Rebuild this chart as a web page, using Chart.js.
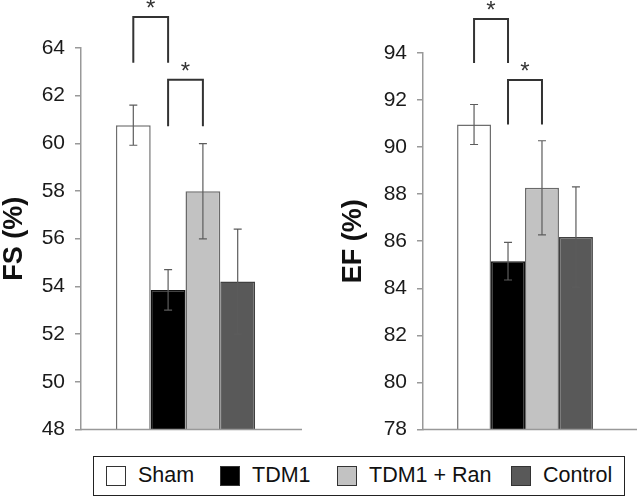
<!DOCTYPE html>
<html>
<head>
<meta charset="utf-8">
<script src="https://cdn.jsdelivr.net/npm/chart.js@4.4.1/dist/chart.umd.min.js"></script>
<style>
  body { margin: 0; background: #fff; width: 639px; height: 498px; position: relative; overflow: hidden;
         font-family: "Liberation Sans", Arial, sans-serif; }
  #fs { position: absolute; left: 0; top: 0; }
  #ef { position: absolute; left: 320px; top: 0; }
  #legend { position: absolute; left: 93px; top: 456px; width: 532px; height: 40px; box-sizing: border-box;
            border: 1.5px solid #222; font-size: 21.5px; color: #111; }
  .item { position: absolute; top: 0; height: 37px; display: flex; align-items: center; }
  .item:nth-child(1) { left: 12px; }
  .item:nth-child(2) { left: 126px; }
  .item:nth-child(3) { left: 243px; }
  .item:nth-child(4) { left: 417px; }
  .sw { width: 20px; height: 20px; border: 1px solid #333; margin-right: 12px; box-sizing: border-box; }
</style>
</head>
<body>
<canvas id="fs" width="320" height="452"></canvas>
<canvas id="ef" width="319" height="452"></canvas>
<div id="legend"></div>
<script>
const groups = ["Sham", "TDM1", "TDM1 + Ran", "Control"];
const fills = ["#ffffff", "#000000", "#c2c2c2", "#595959"];
const borders = ["#6e6e6e", "#111111", "#6a6a6a", "#404040"];

const fsMean = [60.76, 53.85, 57.99, 54.2];
const fsErr = [0.84, 0.85, 2.0, 2.2];
const fsRange = [48, 64];

const efMean = [90.96, 85.15, 88.27, 86.18];
const efErr = [0.85, 0.8, 2.0, 2.13];
const efRange = [78, 94];

// significance brackets: which bars, top of bracket, end of legs
const bracketPairs = [[0, 1], [1, 2]];
const fsBracketTop = [65.3, 62.67];
const fsBracketEnd = [63.38, 60.72];
const efBracketTop = [95.45, 92.85];
const efBracketEnd = [93.58, 90.96];

const extras = {
  id: "extras",
  afterDatasetsDraw(chart, args, opts) {
    const ctx = chart.ctx;
    const y = chart.scales.y;
    const area = chart.chartArea;
    ctx.save();
    // base line
    ctx.strokeStyle = "#999";
    ctx.lineWidth = 1.5;
    ctx.beginPath();
    ctx.moveTo(area.left, y.bottom);
    ctx.lineTo(opts.lineEnd, y.bottom);
    ctx.stroke();
    // error bars
    ctx.strokeStyle = "#5c5c5c";
    ctx.lineWidth = 1.2;
    opts.means.forEach((m, i) => {
      const x = chart.getDatasetMeta(i).data[0].x;
      const t = y.getPixelForValue(m + opts.errs[i]);
      const b = y.getPixelForValue(m - opts.errs[i]);
      ctx.beginPath();
      ctx.moveTo(x, t); ctx.lineTo(x, b);
      ctx.moveTo(x - 4, t); ctx.lineTo(x + 4, t);
      ctx.moveTo(x - 4, b); ctx.lineTo(x + 4, b);
      ctx.stroke();
    });
    // brackets
    ctx.strokeStyle = "#333";
    ctx.lineWidth = 2;
    ctx.fillStyle = "#333";
    ctx.font = "24px 'Liberation Sans', Arial";
    ctx.textAlign = "center";
    ctx.textBaseline = "alphabetic";
    bracketPairs.forEach((p, k) => {
      const xa = chart.getDatasetMeta(p[0]).data[0].x;
      const xb = chart.getDatasetMeta(p[1]).data[0].x;
      const yt = y.getPixelForValue(opts.top[k]);
      const yb = y.getPixelForValue(opts.end[k]);
      ctx.beginPath();
      ctx.moveTo(xa, yb); ctx.lineTo(xa, yt); ctx.lineTo(xb, yt); ctx.lineTo(xb, yb);
      ctx.stroke();
      ctx.fillText("*", (xa + xb) / 2, yt - 1);
    });
    ctx.restore();
  }
};

function makeChart(id, title, means, errs, range, top, end, lay) {
  return new Chart(document.getElementById(id), {
    type: "bar",
    data: {
      labels: [""],
      datasets: groups.map((g, i) => ({
        label: g,
        data: [means[i]],
        backgroundColor: fills[i],
        borderColor: borders[i],
        borderWidth: 1.5,
        barPercentage: 1,
        categoryPercentage: 0.666,
      })),
    },
    options: {
      responsive: false,
      animation: false,
      layout: { padding: { left: lay.left, right: lay.right, top: lay.top, bottom: 19 } },
      plugins: {
        legend: { display: false },
        tooltip: { enabled: false },
        extras: { means: means, errs: errs, top: top, end: end, lineEnd: lay.lineEnd },
      },
      scales: {
        x: { display: false },
        y: {
          min: range[0],
          max: range[1],
          afterFit: (s) => { s.width = lay.axisW; },
          ticks: { stepSize: 2, padding: 10, color: "#1a1a1a",
                   font: { family: "'Liberation Sans', Arial", size: 21 } },
          grid: { drawOnChartArea: false, tickLength: 6, color: "#999", lineWidth: 1.5 },
          border: { color: "#999", width: 1.5 },
          title: { display: true, text: title, color: "#111", padding: 0,
                   font: { family: "'Liberation Sans', Arial", size: 27, weight: "bold", lineHeight: 1.05 } },
        },
      },
    },
    plugins: [extras],
  });
}

makeChart("fs", "FS (%)", fsMean, fsErr, fsRange, fsBracketTop, fsBracketEnd,
  { left: 0, axisW: 81, right: 30, top: 48, lineEnd: 302 });
makeChart("ef", "EF (%)", efMean, efErr, efRange, efBracketTop, efBracketEnd,
  { left: 19, axisW: 84, right: 12, top: 53, lineEnd: 317 });

const legend = document.getElementById("legend");
groups.forEach((g, i) => {
  const item = document.createElement("div");
  item.className = "item";
  const sw = document.createElement("span");
  sw.className = "sw";
  sw.style.background = fills[i];
  const txt = document.createElement("span");
  txt.textContent = g;
  item.appendChild(sw);
  item.appendChild(txt);
  legend.appendChild(item);
});
</script>
</body>
</html>
